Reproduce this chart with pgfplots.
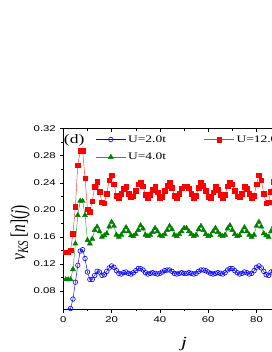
\documentclass[border=0pt]{standalone}
\usepackage{fontspec}
\setmainfont{Liberation Serif}
\setsansfont{Liberation Sans}
\usepackage{graphicx}
\usepackage{pgfplots}
\pgfplotsset{compat=1.18}
\usepackage{pgfplotstable}
\newcommand{\sx}[1]{\scalebox{1.35}[1]{#1}}

\pgfplotstableread{
j b g r
1 0.053 0.097 0.137
2 0.053 0.097 0.137
3 0.054 0.097 0.140
4 0.068 0.112 0.165
5 0.093 0.150 0.205
6 0.118 0.192 0.266
7 0.139 0.213 0.287
8 0.141 0.213 0.287
9 0.128 0.192 0.247
10 0.108 0.155 0.201
11 0.097 0.150 0.197
12 0.097 0.157 0.213
13 0.103 0.170 0.234
14 0.109 0.175 0.242
15 0.108 0.168 0.227
16 0.103 0.160 0.211
17 0.104 0.162 0.210
18 0.109 0.165 0.224
19 0.114 0.175 0.244
20 0.117 0.182 0.251
21 0.115 0.176 0.238
22 0.110 0.163 0.221
23 0.106 0.160 0.217
24 0.105 0.163 0.224
25 0.107 0.168 0.231
26 0.108 0.174 0.234
27 0.106 0.168 0.224
28 0.105 0.162 0.219
29 0.107 0.161 0.220
30 0.110 0.164 0.228
31 0.113 0.170 0.238
32 0.113 0.177 0.241
33 0.111 0.172 0.235
34 0.107 0.163 0.222
35 0.105 0.161 0.218
36 0.106 0.163 0.222
37 0.107 0.167 0.230
38 0.106 0.173 0.234
39 0.105 0.168 0.226
40 0.106 0.162 0.218
41 0.108 0.161 0.219
42 0.110 0.164 0.228
43 0.111 0.170 0.236
44 0.111 0.176 0.240
45 0.109 0.171 0.233
46 0.106 0.163 0.221
47 0.105 0.161 0.218
48 0.106 0.164 0.224
49 0.107 0.168 0.232
50 0.106 0.173 0.235
51 0.106 0.173 0.235
52 0.107 0.168 0.232
53 0.106 0.164 0.224
54 0.105 0.161 0.218
55 0.106 0.163 0.221
56 0.109 0.171 0.233
57 0.111 0.176 0.240
58 0.111 0.170 0.236
59 0.110 0.164 0.228
60 0.108 0.161 0.219
61 0.106 0.162 0.218
62 0.105 0.168 0.226
63 0.106 0.173 0.234
64 0.107 0.167 0.230
65 0.106 0.163 0.222
66 0.105 0.161 0.218
67 0.107 0.163 0.222
68 0.111 0.172 0.235
69 0.113 0.177 0.241
70 0.113 0.170 0.238
71 0.110 0.164 0.228
72 0.107 0.161 0.220
73 0.105 0.162 0.219
74 0.106 0.168 0.224
75 0.108 0.174 0.234
76 0.107 0.168 0.231
77 0.105 0.163 0.224
78 0.106 0.160 0.217
79 0.110 0.163 0.221
80 0.115 0.176 0.238
81 0.117 0.182 0.251
82 0.114 0.175 0.244
83 0.109 0.165 0.224
84 0.104 0.162 0.210
85 0.103 0.160 0.211
86 0.108 0.168 0.227
87 0.109 0.175 0.242
88 0.103 0.170 0.234
89 0.097 0.157 0.213
90 0.097 0.150 0.197
91 0.108 0.155 0.201
92 0.128 0.192 0.247
93 0.141 0.213 0.287
94 0.139 0.213 0.287
95 0.118 0.192 0.266
96 0.093 0.150 0.205
97 0.068 0.112 0.165
98 0.054 0.097 0.140
99 0.053 0.097 0.137
100 0.053 0.097 0.137
}\vks

\definecolor{cblue}{RGB}{0,0,255}
\definecolor{cred}{RGB}{255,0,0}
\definecolor{cgreen}{RGB}{0,128,0}

\begin{document}
\begin{tikzpicture}[x=1pt,y=1pt]
\path[use as bounding box] (0,0) rectangle (272,352);
\clip (0,0) rectangle (272,352);
\begin{axis}[
  scale only axis, width=241.5pt, height=180.3pt,
  at={(63.3pt,43pt)}, anchor=south west,
  xmin=0, xmax=100, ymin=0.0533, ymax=0.32,
  tick align=outside, xtick pos=left, ytick pos=left,
  xtick={0,20,40,60,80,100}, minor x tick num=1,
  xticklabels={\sx{0},\sx{20},\sx{40},\sx{60},\sx{80},{}},
  ytick={0.08,0.12,0.16,0.20,0.24,0.28,0.32}, minor y tick num=1,
  yticklabels={\sx{0.08},\sx{0.12},\sx{0.16},\sx{0.20},\sx{0.24},\sx{0.28},\sx{0.32}},
  major tick length=3.5pt, minor tick length=2pt,
  tick style={black, line width=0.5pt},
  axis line style={line width=0.6pt},
  ticklabel style={font=\sffamily\fontsize{8.4}{9}\selectfont},
  xticklabel style={yshift=-1pt},
  yticklabel style={xshift=-0.5pt},
  xlabel={\sx{\textit{j}}},
  ylabel={\scalebox{1}[1.35]{\textit{v}\textsubscript{\textit{KS}}\,[\textit{n}](\textit{j})}},
  label style={font=\fontsize{15.5}{17}\selectfont},
  xlabel style={at={(axis description cs:0.5,-0.194)}, anchor=center},
  ylabel style={at={(axis description cs:-0.179,0.424)}, anchor=center},
  legend columns=2,
  legend style={draw=none, fill=none, at={(axis description cs:0.133,0.975)}, anchor=north west,
    font=\fontsize{10}{12}\selectfont, inner sep=0pt, row sep=5.5pt,
    /tikz/every even column/.append style={column sep=36pt}},
  legend image code/.code={\draw[mark repeat=2,mark phase=2] plot coordinates {(0pt,0pt) (15pt,0pt) (30pt,0pt)};},
]
\addplot[cblue, line width=0.45pt, mark=o, mark size=2.3pt, mark options={line width=0.6pt}] table[x=j,y=b] {\vks};
\addlegendentry{\sx{U=2.0t}}
\addplot[cred!80, line width=0.45pt, mark=square*, mark size=2.3pt, mark options={cred}] table[x=j,y=r] {\vks};
\addlegendentry{\sx{U=12.0t}}
\addplot[cgreen!80, line width=0.45pt, mark=triangle*, mark size=2.9pt, mark options={cgreen}] table[x=j,y=g] {\vks};
\addlegendentry{\sx{U=4.0t}}
\node[font=\fontsize{13}{15}\selectfont] at (axis description cs:0.045,0.937) {\sx{(d)}};
\end{axis}
\begin{axis}[
  scale only axis, width=241.5pt, height=180.3pt,
  at={(63.3pt,43pt)}, anchor=south west,
  xmin=0, xmax=100, ymin=0.0533, ymax=0.32,
  axis line style={draw=none},
  tick align=inside, xtick pos=right, ytick=\empty,
  xtick={0,20,40,60,80,100}, minor x tick num=1,
  xticklabels={},
  major tick length=3.5pt, minor tick length=2pt,
  tick style={black, line width=0.5pt},
]
\end{axis}
\end{tikzpicture}
\end{document}
